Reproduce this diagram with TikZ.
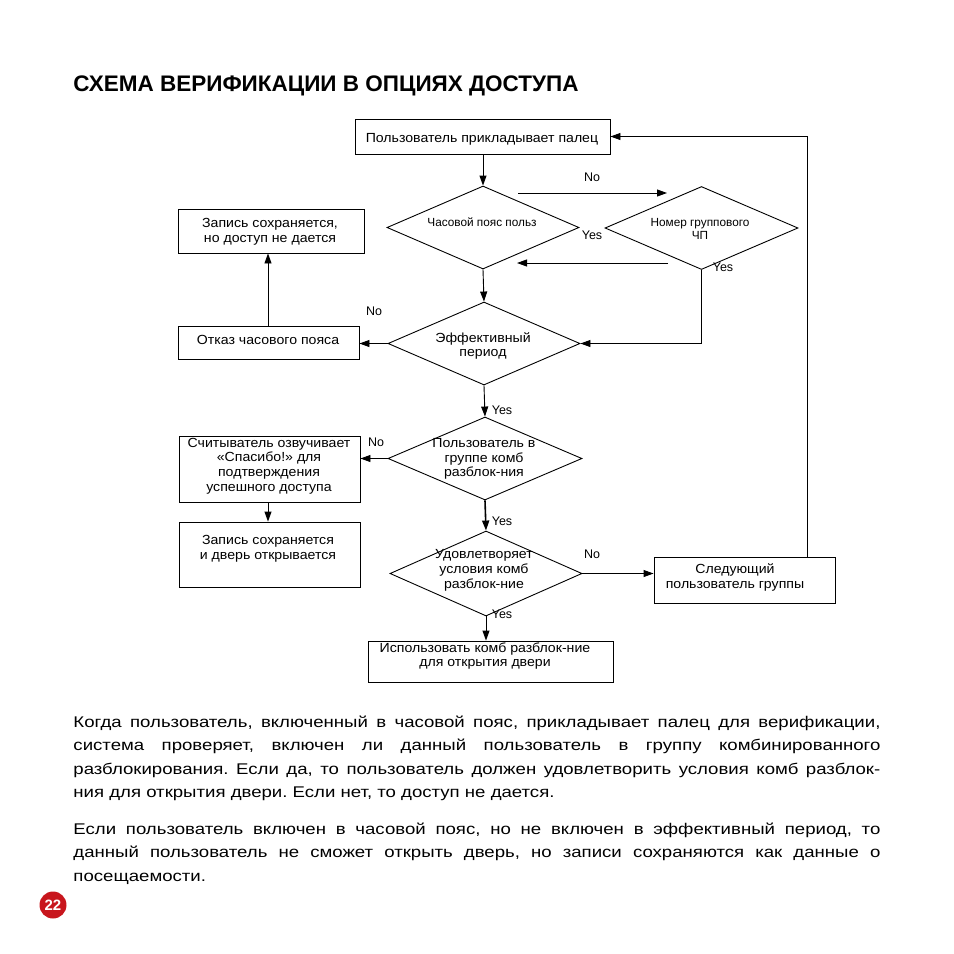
\documentclass[tikz,border=0pt]{standalone}
\usepackage{fontspec}
\setmainfont{Liberation Sans}
\newfontfamily\bodyfont{Liberation Sans}[FakeStretch=1.2]
\newfontfamily\diafont{Liberation Sans}[FakeStretch=1.07]
\usetikzlibrary{shapes.geometric,arrows.meta,calc}
\definecolor{pagered}{HTML}{C8161D}
\frenchspacing
\begin{document}
\begin{tikzpicture}[x=1pt,y=-1pt,
  line width=0.9pt,
  arr/.style={-{Triangle[length=10pt,width=7pt]}},
  boxnode/.style={draw, rectangle, inner sep=0pt},
  dia/.style={draw, diamond, inner sep=0pt, aspect=2.3},
  txt/.style={font=\diafont\fontsize{13.2}{14.8}\selectfont, align=center, inner sep=0pt, yshift=-2pt},
  stxt/.style={font=\fontsize{11.8}{13}\selectfont, align=center, inner sep=0pt, yshift=-1pt},
  lbl/.style={font=\fontsize{12.5}{14}\selectfont, inner sep=0pt},
  body/.style={font=\bodyfont\fontsize{15.5}{23.5}\selectfont, anchor=base west, inner sep=0pt}]
\useasboundingbox (0,0) rectangle (954,954);

% title
\node[anchor=base west, inner sep=0pt, font=\fontsize{22.5}{24}\selectfont\bfseries] (title) at (73,91) {СХЕМА ВЕРИФИКАЦИИ В ОПЦИЯХ ДОСТУПА};

% boxes
\node[boxnode, minimum width=255pt, minimum height=35pt] (b1) at (482.5,136.5) {};
\node[boxnode, minimum width=186pt, minimum height=44pt] (b2) at (271,231) {};
\node[boxnode, minimum width=181pt, minimum height=33pt] (b3) at (268.5,342.5) {};
\node[boxnode, minimum width=181pt, minimum height=66pt] (b4) at (269.5,469) {};
\node[boxnode, minimum width=181pt, minimum height=65pt] (b5) at (269.5,554.5) {};
\node[boxnode, minimum width=181pt, minimum height=46pt] (b6) at (744.5,580) {};
\node[boxnode, minimum width=245pt, minimum height=41pt] (b7) at (490.5,661.5) {};

% diamonds
\node[dia, minimum width=192pt, minimum height=83pt] (d1) at (483,227.5) {};
\node[dia, minimum width=193pt, minimum height=83pt] (d2) at (701.5,228) {};
\node[dia, minimum width=192pt, minimum height=83pt] (d3) at (484,343.5) {};
\node[dia, minimum width=194pt, minimum height=83pt] (d4) at (485,458.5) {};
\node[dia, minimum width=192pt, minimum height=85pt] (d5) at (486,573.5) {};

% texts
\node[txt] (t1) at (482,137) {Пользователь прикладывает палец};
\node[txt] (t2) at (270,229.5) {Запись сохраняется,\\но доступ не дается};
\node[txt] (t3) at (268,338) {Отказ часового пояса};
\node[stxt] (t4) at (482,221) {Часовой пояс польз};
\node[stxt] (t5) at (700,228) {Номер группового\\ЧП};
\node[txt] (t6) at (483,344) {Эффективный\\период};
\node[txt] (t7) at (484,457) {Пользователь в\\группе комб\\разблок-ния};
\node[txt] (t8) at (269,464) {Считыватель озвучивает\\«Спасибо!» для\\подтверждения\\успешного доступа};
\node[txt] (t9) at (268,546.5) {Запись сохраняется\\и дверь открывается};
\node[txt] (t10) at (484,568.5) {Удовлетворяет\\условия комб\\разблок-ние};
\node[txt] (t11) at (735,575.5) {Следующий\\пользователь группы};
\node[txt] (t12) at (485,654) {Использовать комб разблок-ние\\для открытия двери};

% labels
\node[lbl] (l1) at (592,177) {No};
\node[lbl] (l2) at (592,235) {Yes};
\node[lbl] (l3) at (723,267) {Yes};
\node[lbl] (l4) at (374,311) {No};
\node[lbl] (l5) at (502,410) {Yes};
\node[lbl] (l6) at (376,442) {No};
\node[lbl] (l7) at (502,521) {Yes};
\node[lbl] (l8) at (592,554) {No};
\node[lbl] (l9) at (502,614) {Yes};

% free connector ends
\coordinate (n1s) at (518,193);
\coordinate (n1e) at (667,193);
\coordinate (n2s) at (668,263);
\coordinate (n2e) at (517,263);

% connectors
\draw[arr] (b1.south -| d1.north) -- (d1.north);
\draw[arr] (n1s) -- (n1e);
\draw[arr] (n2s) -- (n2e);
\draw[arr] (d2.south) |- (d3.east);
\draw[arr] (d1.south) -- (d3.north);
\draw[arr] (d3.west) -- (d3.west -| b3.east);
\draw[arr] (b3.north -| 268,0) -- (b2.south -| 268,0);
\draw[arr] (d3.south) -- (d4.north);
\draw[arr] (d4.west) -- (d4.west -| b4.east);
\draw[arr] (b4.south -| 268,0) -- (b5.north -| 268,0);
\draw[arr, line width=1.6pt] (d4.south) -- (d5.north);
\draw[arr] (d5.east) -- (d5.east -| b6.west);
\draw[arr] ([xshift=-28pt]b6.north east) |- (b1.east);
\draw[arr] (d5.south) -- (d5.south |- b7.north);

% body text
\node[body] (p1) at (73,727) {\makebox[807pt][s]{Когда пользователь, включенный в часовой пояс, прикладывает палец для верификации,}};
\node[body] (p2) at (73,750.5) {\makebox[807pt][s]{система проверяет, включен ли данный пользователь в группу комбинированного}};
\node[body] (p3) at (73,774) {\makebox[807pt][s]{разблокирования. Если да, то пользователь должен удовлетворить условия комб разблок-}};
\node[body] (p4) at (73,797.5) {ния для открытия двери. Если нет, то доступ не дается.};
\node[body] (p5) at (73,834) {\makebox[807pt][s]{Если пользователь включен в часовой пояс, но не включен в эффективный период, то}};
\node[body] (p6) at (73,857.5) {\makebox[807pt][s]{данный пользователь не сможет открыть дверь, но записи сохраняются как данные о}};
\node[body] (p7) at (73,881) {посещаемости.};

% page number
\node[circle, fill=pagered, minimum size=27pt, inner sep=0pt, text=white, font=\fontsize{15}{15}\selectfont\bfseries] (pg) at (53,905) {22};
\end{tikzpicture}
\end{document}
